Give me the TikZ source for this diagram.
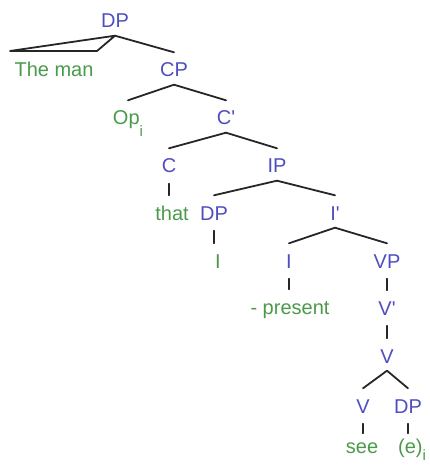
\documentclass[tikz,border=0pt]{standalone}
\usepackage{fontspec}
\setmainfont{Liberation Sans}

\definecolor{catblue}{HTML}{4E4EC0}
\definecolor{wordgreen}{HTML}{4A9A4A}

\tikzset{
  lbl/.style={font=\fontsize{20}{22}\selectfont, inner xsep=1pt, inner ysep=3pt,
              text height=21.5pt, text depth=4.5pt, anchor=base},
  cat/.style={lbl, text=catblue},
  word/.style={lbl, text=wordgreen},
  branch/.style={line width=1.8pt, draw=black!85, line cap=round},
  stem/.style={branch, shorten <=3pt},
}

\begin{document}
\begin{tikzpicture}[x=1pt, y=-1pt]

    % Keep the page at a fixed size
    \useasboundingbox (0,0) rectangle (429,470);

    % Head of the relative clause
    \node[cat]  (dp1)    at (115,28)  {DP};
    \node[word] (theman) at (54,77)   {The man};
    \node[cat]  (cp)     at (174,77)  {CP};

    % Operator and the complementiser layer
    \node[word] (op)     at (128,125) {Op\raisebox{-12pt}{\fontsize{15}{15}\selectfont i}};
    \node[cat]  (cbar)   at (226,125) {C\textquotesingle};
    \node[cat]  (c)      at (169,173) {C};
    \node[cat]  (ip)     at (277,173) {IP};
    \node[word] (that)   at (172,220) {that};

    % Subject and inflection
    \node[cat]  (dp2)    at (214,220) {DP};
    \node[cat]  (ibar)   at (335,220) {I\textquotesingle};
    \node[word] (idp)    at (218,268) {I};
    \node[cat]  (i)      at (289,268) {I};
    \node[cat]  (vp)     at (387,268) {VP};
    \node[word] (present) at (290,314) {- present};

    % Verb phrase
    \node[cat]  (vbar)   at (387,315) {V\textquotesingle};
    \node[cat]  (v1)     at (387,363) {V};
    \node[cat]  (v2)     at (363,413) {V};
    \node[cat]  (dp3)    at (408,413) {DP};
    \node[word] (see)    at (362,453) {see};
    \node[word] (e)      at (412,453) {(e)\raisebox{-7pt}{\fontsize{15}{15}\selectfont i}};

    % Triangle over the unanalysed DP
    \coordinate (tl) at (10,51);
    \coordinate (tr) at (97,51);
    \draw[branch, line join=round] (dp1.south) -- (tl) -- (tr) -- cycle;

    % Branches
    \draw[branch] (dp1.south) -- (cp.north);
    \draw[branch] (cp.south) -- (op.north);
    \draw[branch] (cp.south) -- (cbar.north);
    \draw[branch] (cbar.south) -- (c.north);
    \draw[branch] (cbar.south) -- (ip.north);
    \draw[branch] (ip.south) -- (dp2.north);
    \draw[branch] (ip.south) -- (ibar.north);
    \draw[branch] (ibar.south) -- (i.north);
    \draw[branch] (ibar.south) -- (vp.north);
    \draw[branch] (v1.south) -- (v2.north);
    \draw[branch] (v1.south) -- (dp3.north);

    % Unary stems
    \draw[stem] (c.south) -- (c.south |- that.north);
    \draw[stem] (dp2.south) -- (dp2.south |- idp.north);
    \draw[stem] (i.south) -- (i.south |- present.north);
    \draw[stem] (vp.south) -- (vbar.north);
    \draw[stem] (vbar.south) -- (v1.north);
    \draw[stem, shorten >=-5pt] (v2.south) -- (v2.south |- see.north);
    \draw[stem, shorten >=-5pt] (dp3.south) -- (dp3.south |- e.north);

\end{tikzpicture}
\end{document}
